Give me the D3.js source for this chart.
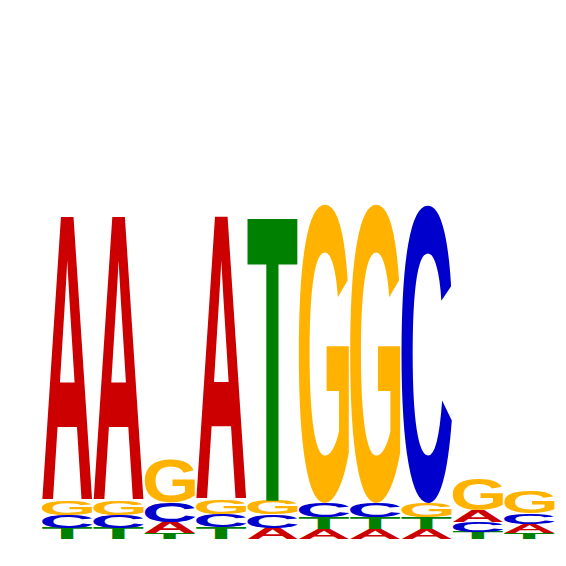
<!DOCTYPE html>
<html>
<head>
<meta charset="utf-8">
<script src="https://cdn.jsdelivr.net/npm/d3@7"></script>
<style>
  body { margin: 0; background: #fff; }
</style>
</head>
<body>
<svg id="logo" width="566" height="566"></svg>
<script>
// letter heights in bits, one value per position
const positions = [1, 2, 3, 4, 5, 6, 7, 8, 9, 10];
const heightsA = [1.145, 1.145, 0.044, 1.141, 0.044, 0.040, 0.040, 0.040, 0.048, 0.036];
const heightsC = [0.052, 0.052, 0.080, 0.052, 0.054, 0.056, 0.056, 1.197, 0.040, 0.044];
const heightsG = [0.056, 0.056, 0.173, 0.056, 0.056, 1.201, 1.201, 0.056, 0.124, 0.092];
const heightsT = [0.044, 0.044, 0.024, 0.048, 1.143, 0.048, 0.048, 0.048, 0.028, 0.024];

const letters = ["A", "C", "G", "T"];
const colors = { A: "#CC0000", C: "#0000CC", G: "#FFB300", T: "#008000" };

const svg = d3.select("#logo");
const x = d3.scaleBand().domain(positions).range([41.5, 555]).padding(0);
const y = d3.scaleLinear().domain([0, 2]).range([539, 41]);

// ink bounds of each glyph, so a letter can be stretched to fill its box
const fontSize = 200;
const font = `bold ${fontSize}px 'Liberation Sans', Arial, sans-serif`;
const ctx = document.createElement("canvas").getContext("2d");
ctx.font = font;
const ink = {};
letters.forEach(l => {
    const m = ctx.measureText(l);
    ink[l] = {
        left: -m.actualBoundingBoxLeft,
        right: m.actualBoundingBoxRight,
        top: -m.actualBoundingBoxAscent,
        bottom: m.actualBoundingBoxDescent
    };
});

const table = { A: heightsA, C: heightsC, G: heightsG, T: heightsT };

positions.forEach((p, i) => {
    const stack = letters.map(l => ({ letter: l, h: table[l][i] }))
        .sort((a, b) => a.h - b.h);
    let base = 0;
    stack.forEach(d => {
        d.y0 = base;
        d.y1 = base + d.h;
        base = d.y1;
    });

    const col = svg.append("g").attr("class", "column");
    col.selectAll("text")
        .data(stack)
        .enter()
        .append("text")
        .text(d => d.letter)
        .attr("fill", d => colors[d.letter])
        .style("font", font)
        .attr("transform", d => {
            const b = ink[d.letter];
            const x0 = x(p) + 0.5;
            const w = x.bandwidth() - 1;
            const top = y(d.y1);
            const h = y(d.y0) - y(d.y1);
            const sx = w / (b.right - b.left);
            const sy = h / (b.bottom - b.top);
            return `translate(${x0},${top}) scale(${sx},${sy}) translate(${-b.left},${-b.top})`;
        });
});
</script>
</body>
</html>
